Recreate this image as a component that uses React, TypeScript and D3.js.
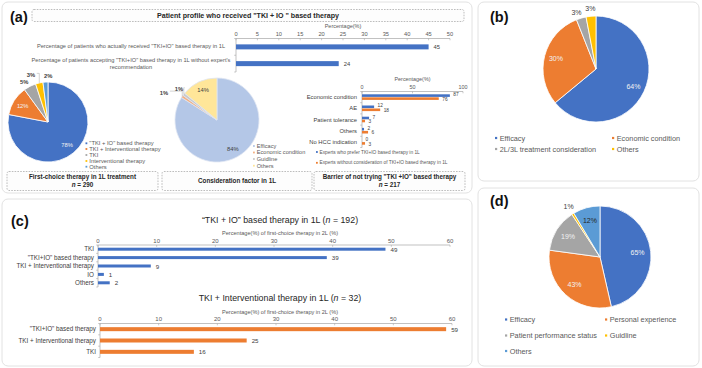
import React from "react";
import * as d3 from "d3";

const FONT = "'Liberation Sans', Arial, sans-serif";
const BLUE = "#4472c4";
const ORANGE = "#ed7d31";
const GREY = "#a5a5a5";
const YELLOW = "#ffc000";
const LBLUE = "#5b9bd5";
const TXT = "#595959";
const AXIS = "#a6a6a6";

// (a) patient profile bars
const profileCats = [
  ['Percentage of patients who actually received  "TKI+IO" based  therapy  in  1L'],
  ["Percentage of patients accepting \"TKI+IO\" based therapy in 1L without expert's", "recommendation"],
];
const profileValues = [45, 24];

// (a) first-choice therapy pie
const firstChoiceLabels = ['"TKI + IO" based  therapy', "TKI + Interventional  therapy", "TKI", "Interventional  therapy", "Others"];
const firstChoiceValues = [78, 12, 5, 3, 2];

// (a) consideration factor pie
const considerLabels = ["Efficacy", "Economic condition", "Guidline", "Others"];
const considerValues = [84, 1, 1, 14];

// (a) barrier bars
const barrierCats = ["Economic condition", "AE", "Patient tolerance", "Others", "No HCC indication"];
const barrierPrefer = [87, 12, 7, 2, 0];
const barrierWithout = [76, 18, 3, 6, 3];
const barrierSeries = [
  "Experts who prefer TKI+IO based therapy in 1L",
  "Experts without consideration of TKI+IO based therapy in 1L",
];

// (b)
const reasonBLabels = ["Efficacy", "Economic condition", "2L/3L treatment consideration", "Others"];
const reasonBValues = [64, 30, 3, 3];

// (c)
const ioCats = ["TKI", '"TKI+IO" based therapy', "TKI + Interventional therapy", "IO", "Others"];
const ioValues = [49, 39, 9, 1, 2];
const tiCats = ['"TKI+IO" based therapy', "TKI + Interventional therapy", "TKI"];
const tiValues = [59, 25, 16];

// (d)
const reasonDLabels = ["Efficacy", "Personal experience", "Patient performance status", "Guidline", "Others"];
const reasonDValues = [65, 43, 19, 1, 12];

const Card = ({ x, y, w, h }: { x: number; y: number; w: number; h: number }) => (
  <rect x={x} y={y} width={w} height={h} rx={6} fill="#fff" stroke="#e2e2e2" strokeWidth={1} />
);

const DashBox = ({ x, y, w, h, lines, fs = 6.3 }: { x: number; y: number; w: number; h: number; lines: React.ReactNode[]; fs?: number }) => {
  const cy = y + h / 2;
  const lh = fs * 1.25;
  return (
    <g>
      <rect x={x} y={y} width={w} height={h} rx={2} fill="#fdfdfd" stroke="#a0a0a0" strokeWidth={0.7} strokeDasharray="1.6,1.2" />
      {lines.map((l, i) => (
        <text key={i} x={x + w / 2} y={cy + (i - (lines.length - 1) / 2) * lh + fs * 0.36} textAnchor="middle" fontSize={fs} fontWeight="bold" fill="#262626">
          {l}
        </text>
      ))}
    </g>
  );
};

interface PieProps {
  cx: number;
  cy: number;
  r: number;
  values: number[];
  colors: string[];
  inColors: string[];
  fs: number;
  inR: number;
  outR: number;
  minShare: number;
  nudge?: [number, number][];
  leader?: boolean[];
  stroke?: string;
  outBold?: boolean;
}

const Pie = (p: PieProps) => {
  const total = d3.sum(p.values);
  const arcs = d3.pie<number>().sort(null).value((d) => d)(p.values);
  const arc = d3.arc<d3.PieArcDatum<number>>().innerRadius(0).outerRadius(p.r);
  return (
    <g transform={`translate(${p.cx},${p.cy})`}>
      {arcs.map((a, i) => (
        <path key={i} d={arc(a) || ""} fill={p.colors[i]} stroke={p.stroke || "#fff"} strokeWidth={0.8} />
      ))}
      {arcs.map((a, i) => {
        const mid = (a.startAngle + a.endAngle) / 2;
        const inside = a.value / total >= p.minShare;
        const rr = p.r * (inside ? p.inR : p.outR);
        const nd = (p.nudge && p.nudge[i]) || [0, 0];
        const lx = Math.sin(mid) * rr + nd[0];
        const ly = -Math.cos(mid) * rr + nd[1];
        const ex = Math.sin(mid) * p.r;
        const ey = -Math.cos(mid) * p.r;
        return (
          <g key={i}>
            {!inside && p.leader && p.leader[i] && (
              <polyline
                points={`${lx + (lx < ex ? p.fs : -p.fs)},${ly - p.fs * 0.3} ${ex},${ly - p.fs * 0.3} ${ex},${ey}`}
                fill="none"
                stroke="#a6a6a6"
                strokeWidth={0.5}
              />
            )}
            <text
              x={lx}
              y={ly + p.fs * 0.35}
              textAnchor="middle"
              fontSize={p.fs}
              fontWeight={!inside && p.outBold ? "bold" : "normal"}
              fill={inside ? p.inColors[i] : "#404040"}
            >
              {p.values[i]}%
            </text>
          </g>
        );
      })}
    </g>
  );
};

const Legend = ({ items, colors, x, ys, fs, xs }: { items: string[]; colors: string[]; x: number[]; ys: number[]; fs: number; xs?: number }) => (
  <g>
    {items.map((t, i) => {
      const s = xs || fs * 0.45;
      return (
        <g key={i}>
          <rect x={x[i]} y={ys[i] - s / 2} width={s} height={s} fill={colors[i]} />
          <text x={x[i] + s + fs * 0.35} y={ys[i] + fs * 0.35} fontSize={fs} fill={TXT}>
            {t}
          </text>
        </g>
      );
    })}
  </g>
);

// horizontal value axis on top of a bar chart, labels above the line
const TopAxis = ({ scale, y, ticks, fs }: { scale: d3.ScaleLinear<number, number>; y: number; ticks: number[]; fs: number }) => {
  const [a, b] = scale.range();
  return (
    <g>
      <line x1={a} x2={b} y1={y} y2={y} stroke={AXIS} strokeWidth={0.7} />
      {ticks.map((t) => (
        <g key={t}>
          <line x1={scale(t)} x2={scale(t)} y1={y} y2={y + 1.8} stroke={AXIS} strokeWidth={0.6} />
          <text x={scale(t)} y={y - 2.2} textAnchor="middle" fontSize={fs} fill={TXT}>
            {t}
          </text>
        </g>
      ))}
    </g>
  );
};

const CatAxis = ({ band, x }: { band: d3.ScaleBand<number>; x: number }) => {
  const [a, b] = band.range();
  const n = band.domain().length;
  return (
    <g>
      <line x1={x} x2={x} y1={a} y2={b} stroke={AXIS} strokeWidth={0.7} />
      {d3.range(n + 1).map((i) => (
        <line key={i} x1={x - 1.8} x2={x} y1={a + i * band.step()} y2={a + i * band.step()} stroke={AXIS} strokeWidth={0.6} />
      ))}
    </g>
  );
};

interface SimpleBarsProps {
  cats: string[];
  values: number[];
  color: string;
  x0: number;
  x1: number;
  axisY: number;
  bottom: number;
  barH: number;
  title: React.ReactNode;
  titleY: number;
}

const SecondLineBars = (p: SimpleBarsProps) => {
  const x = d3.scaleLinear().domain([0, 60]).range([p.x0, p.x1]);
  const y = d3.scaleBand<number>().domain(d3.range(p.cats.length)).range([p.axisY, p.bottom]);
  const mid = 280;
  return (
    <g>
      <text x={mid} y={p.titleY} textAnchor="middle" fontSize={8.8} fill="#262626">
        {p.title}
      </text>
      <text x={mid} y={p.axisY - 10} textAnchor="middle" fontSize={5.6} fill={TXT}>
        Percentage(%) of first-choice therapy in 2L (%)
      </text>
      <TopAxis scale={x} y={p.axisY} ticks={x.ticks(6)} fs={6} />
      <CatAxis band={y} x={p.x0} />
      {p.values.map((v, i) => {
        const cy = (y(i) || 0) + y.bandwidth() / 2;
        return (
          <g key={i}>
            <rect x={x(0)} y={cy - p.barH / 2} width={x(v) - x(0)} height={p.barH} fill={p.color} />
            <text x={p.x0 - 4} y={cy + 2.1} textAnchor="end" fontSize={6.3} fill="#404040">
              {p.cats[i]}
            </text>
            <text x={x(v) + 5} y={cy + 2.6} fontSize={6.2} fill="#404040">
              {v}
            </text>
          </g>
        );
      })}
    </g>
  );
};

const nLine = (n: number) => (
  <>
    <tspan fontStyle="italic">n</tspan> = {n}
  </>
);

const App = () => {
  // (a) profile bars
  const px = d3.scaleLinear().domain([0, 50]).range([236, 450]);
  const py = d3.scaleBand<number>().domain(d3.range(profileValues.length)).range([38.5, 72]);

  // (a) barrier bars
  const bx = d3.scaleLinear().domain([0, 100]).range([362, 463]);
  const by = d3.scaleBand<number>().domain(d3.range(barrierCats.length)).range([91.5, 147.5]);
  const bh = 2.6;

  return (
    <svg width={702} height={368} style={{ position: "absolute", left: 0, top: 0, background: "#fff" }} fontFamily={FONT}>
      <rect x={0} y={0} width={702} height={368} fill="#fff" />
      <Card x={2} y={2} w={470} h={191} />
      <Card x={478} y={2} w={221} h={179} />
      <Card x={2} y={199} w={470} h={167} />
      <Card x={478} y={188} w={221} h={178} />

      {/* panel a */}
      <text x={10} y={22} fontSize={14.5} fontWeight="bold" fill="#111">(a)</text>
      <DashBox x={32} y={9.5} w={432} h={12} fs={7.1} lines={['Patient profile who received "TKI + IO " based therapy']} />

      <text x={px(25)} y={28} textAnchor="middle" fontSize={5.5} fill={TXT}>Percentage(%)</text>
      <TopAxis scale={px} y={38.5} ticks={px.ticks(10)} fs={5.7} />
      <CatAxis band={py} x={236} />
      {profileValues.map((v, i) => {
        const cy = (py(i) || 0) + py.bandwidth() / 2;
        const lines = profileCats[i];
        return (
          <g key={i}>
            <rect x={px(0)} y={cy - 2.5} width={px(v) - px(0)} height={5} fill={BLUE} />
            <text x={px(v) + 5} y={cy + 2} fontSize={5.8} fill="#404040">{v}</text>
            {lines.map((l, j) => (
              <text key={j} x={131} y={cy + 2 + (j - (lines.length - 1) / 2) * 7 - (lines.length > 1 ? 0.5 : 0.4)} textAnchor="middle" fontSize={5.7} fill={TXT}>
                {l}
              </text>
            ))}
          </g>
        );
      })}

      <Pie
        cx={48}
        cy={122}
        r={40}
        values={firstChoiceValues}
        colors={[BLUE, ORANGE, GREY, YELLOW, LBLUE]}
        inColors={["#f2f2f2", "#f2f2f2"]}
        fs={5.8}
        inR={0.75}
        outR={1.15}
        minShare={0.1}
        nudge={[[0, 0], [0, 0], [-3, 1], [-7, -2], [3, 0]]}
        leader={[false, false, false, true, false]}
        outBold
      />
      <Legend
        items={firstChoiceLabels}
        colors={[BLUE, ORANGE, GREY, YELLOW, LBLUE]}
        x={[85.5, 85.5, 85.5, 85.5, 85.5]}
        ys={[143.3, 149, 155, 161, 166.7]}
        fs={5.8}
        xs={1.8}
      />
      <DashBox x={7} y={171.5} w={151} h={19} lines={["First-choice therapy in 1L treatment", nLine(290)]} />

      <Pie
        cx={217}
        cy={120}
        r={42}
        values={considerValues}
        colors={["#b4c7e7", "#f4b183", "#c9c9c9", "#ffe699"]}
        inColors={["#404040", "", "", "#404040"]}
        fs={5.8}
        inR={0.78}
        outR={1.15}
        minShare={0.1}
        nudge={[[0, 0], [-13, 0], [0, -1], [0, 0]]}
        leader={[false, true, true, false]}
        stroke="#dfe6f3"
        outBold
      />
      <Legend
        items={considerLabels}
        colors={["#b4c7e7", "#f4b183", "#c9c9c9", "#ffe699"]}
        x={[253, 253, 253, 253]}
        ys={[146, 152.5, 159, 165.7]}
        fs={5.6}
        xs={1.8}
      />
      <DashBox x={162} y={171.5} w={150} h={19} lines={["Consideration factor in 1L"]} />

      <text x={bx(50)} y={81} textAnchor="middle" fontSize={5.4} fill={TXT}>Percentage(%)</text>
      <TopAxis scale={bx} y={91.5} ticks={[0, 50, 100]} fs={5.4} />
      <CatAxis band={by} x={362} />
      {barrierCats.map((c, i) => {
        const cy = (by(i) || 0) + by.bandwidth() / 2;
        return (
          <g key={i}>
            <rect x={bx(0)} y={cy - bh - 0.2} width={bx(barrierPrefer[i]) - bx(0)} height={bh} fill={BLUE} />
            <rect x={bx(0)} y={cy + 0.2} width={bx(barrierWithout[i]) - bx(0)} height={bh} fill={ORANGE} />
            <text x={357} y={cy + 2} textAnchor="end" fontSize={5.8} fill="#404040">{c}</text>
            <text x={bx(barrierPrefer[i]) + 3.5} y={cy - 1} fontSize={4.8} fill="#404040">{barrierPrefer[i]}</text>
            <text x={bx(barrierWithout[i]) + 3.5} y={cy + 3.6} fontSize={4.8} fill="#404040">{barrierWithout[i]}</text>
          </g>
        );
      })}
      <Legend items={barrierSeries} colors={[BLUE, ORANGE]} x={[316, 316]} ys={[152, 162.8]} fs={4.8} xs={1.8} />
      <DashBox x={314} y={171.5} w={151} h={19} lines={['Barrier of not trying "TKI +IO" based therapy', nLine(217)]} />

      {/* panel b */}
      <text x={490} y={22} fontSize={14.5} fontWeight="bold" fill="#111">(b)</text>
      <Pie
        cx={596}
        cy={69}
        r={53}
        values={reasonBValues}
        colors={[BLUE, ORANGE, GREY, YELLOW]}
        inColors={["#f2f2f2", "#f2f2f2"]}
        fs={7}
        inR={0.78}
        outR={1.12}
        minShare={0.1}
        nudge={[[0, 0], [0, 0], [-3, 1], [0, -1]]}
      />
      <Legend
        items={reasonBLabels}
        colors={[BLUE, ORANGE, GREY, YELLOW]}
        x={[495, 612, 495, 612]}
        ys={[138, 138, 149, 149]}
        fs={7.3}
        xs={2.2}
      />

      {/* panel c */}
      <text x={11} y={226} fontSize={14.5} fontWeight="bold" fill="#111">(c)</text>
      <SecondLineBars
        cats={ioCats}
        values={ioValues}
        color={BLUE}
        x0={98}
        x1={450}
        axisY={245}
        bottom={287}
        barH={3}
        titleY={223}
        title={<>{"\u201cTKI + IO\u201d based therapy in 1L ("}{nLine(192)})</>}
      />
      <SecondLineBars
        cats={tiCats}
        values={tiValues}
        color={ORANGE}
        x0={100}
        x1={452}
        axisY={323.5}
        bottom={357.5}
        barH={4}
        titleY={301}
        title={<>{"TKI + Interventional therapy in 1L ("}{nLine(32)})</>}
      />

      {/* panel d */}
      <text x={490} y={206} fontSize={14.5} fontWeight="bold" fill="#111">(d)</text>
      <Pie
        cx={600}
        cy={257}
        r={51}
        values={reasonDValues}
        colors={[BLUE, ORANGE, GREY, YELLOW, LBLUE]}
        inColors={["#f2f2f2", "#f2f2f2", "#f2f2f2", "", "#262626"]}
        fs={7}
        inR={0.74}
        outR={1.16}
        minShare={0.05}
      />
      <Legend
        items={reasonDLabels}
        colors={[BLUE, ORANGE, GREY, YELLOW, LBLUE]}
        x={[505, 605, 505, 605, 505]}
        ys={[319.5, 319.5, 335.5, 335.5, 351]}
        fs={7.3}
        xs={2.2}
      />
    </svg>
  );
};

export default App;
